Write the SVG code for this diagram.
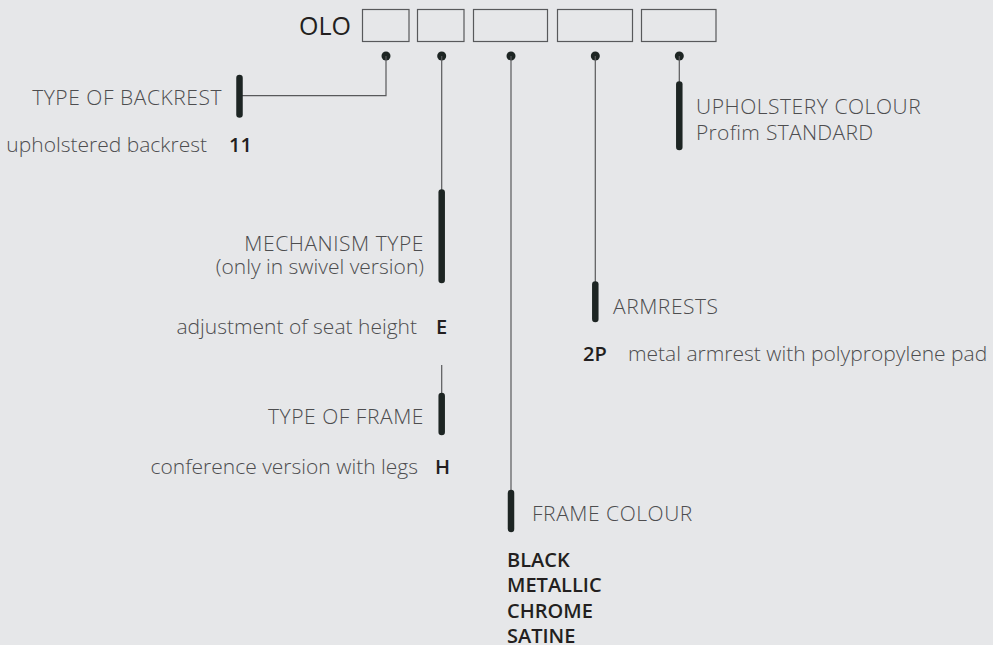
<svg xmlns="http://www.w3.org/2000/svg" width="993" height="645" viewBox="0 0 993 645">
<style>
.bg{fill:#e6e7e9}
.box{fill:none;stroke:#58595b;stroke-width:1.2}
.dot{fill:#1d2523}
.thin{fill:none;stroke:#58595b;stroke-width:1.2}
.bar{stroke:#1d2523;stroke-width:6.5;stroke-linecap:round}
.lbl{font-family:"Open Sans","Liberation Sans",sans-serif;font-weight:300;font-size:21px;fill:#4d4d4f}
.caps{letter-spacing:0.55px}
.code{font-family:"Open Sans","Liberation Sans",sans-serif;font-weight:600;font-size:20px;fill:#231f20}
.end{text-anchor:end}
</style>
<rect class="bg" x="0" y="0" width="993" height="645"/>
<g id="header">
<text x="299" y="35" font-family="'Open Sans','Liberation Sans',sans-serif" font-weight="500" font-size="25" fill="#231f20">OLO</text>
<rect class="box" x="362.5" y="9.5" width="46.5" height="32"/>
<rect class="box" x="417.5" y="9.5" width="46.5" height="32"/>
<rect class="box" x="473.5" y="9.5" width="74" height="32"/>
<rect class="box" x="557.5" y="9.5" width="75" height="32"/>
<rect class="box" x="641.5" y="9.5" width="74.5" height="32"/>
</g>
<g id="connectors">
<circle class="dot" cx="386" cy="56" r="4.5"/>
<circle class="dot" cx="441.7" cy="56" r="4.5"/>
<circle class="dot" cx="511" cy="56" r="4.5"/>
<circle class="dot" cx="595.3" cy="56" r="4.5"/>
<circle class="dot" cx="679.3" cy="56" r="4.5"/>
<polyline class="thin" points="386,56 386,95.7 239.5,95.7"/>
<line class="thin" x1="441.7" y1="56" x2="441.7" y2="192"/>
<line class="thin" x1="441.7" y1="365" x2="441.7" y2="395"/>
<line class="thin" x1="511" y1="56" x2="511" y2="492"/>
<line class="thin" x1="595.3" y1="56" x2="595.3" y2="284"/>
<line class="thin" x1="679.3" y1="56" x2="679.3" y2="84"/>
</g>
<g id="backrest">
<line class="bar" x1="239.5" y1="78" x2="239.5" y2="114.5"/>
<text class="lbl caps end" x="222" y="105">TYPE OF BACKREST</text>
<text class="lbl end" x="207" y="152">upholstered backrest</text>
<text class="code" x="229" y="152">11</text>
</g>
<g id="mechanism">
<line class="bar" x1="441.7" y1="192.5" x2="441.7" y2="280"/>
<text class="lbl caps end" x="424" y="251">MECHANISM TYPE</text>
<text class="lbl end" x="424" y="273.5">(only in swivel version)</text>
<text class="lbl end" x="417" y="334">adjustment of seat height</text>
<text class="code" x="436" y="334">E</text>
</g>
<g id="frame-type">
<line class="bar" x1="441.7" y1="396" x2="441.7" y2="432"/>
<text class="lbl caps end" x="424" y="423.5">TYPE OF FRAME</text>
<text class="lbl end" x="418" y="473.5">conference version with legs</text>
<text class="code" x="435" y="473.5">H</text>
</g>
<g id="frame-colour">
<line class="bar" x1="511" y1="493" x2="511" y2="529"/>
<text class="lbl caps" x="532" y="521">FRAME COLOUR</text>
<text class="code" x="507" y="567">BLACK</text>
<text class="code" x="507" y="592.3">METALLIC</text>
<text class="code" x="507" y="617.5">CHROME</text>
<text class="code" x="507" y="643">SATINE</text>
</g>
<g id="armrests">
<line class="bar" x1="595.3" y1="284.5" x2="595.3" y2="319"/>
<text class="lbl caps" x="613" y="313.5">ARMRESTS</text>
<text class="code" x="583" y="361">2P</text>
<text class="lbl" x="628" y="361">metal armrest with polypropylene pad</text>
</g>
<g id="upholstery">
<line class="bar" x1="679.3" y1="84.5" x2="679.3" y2="147"/>
<text class="lbl caps" x="696" y="113.5">UPHOLSTERY COLOUR</text>
<text class="lbl" x="696" y="139.5" letter-spacing="0.3">Profim STANDARD</text>
</g>
</svg>
